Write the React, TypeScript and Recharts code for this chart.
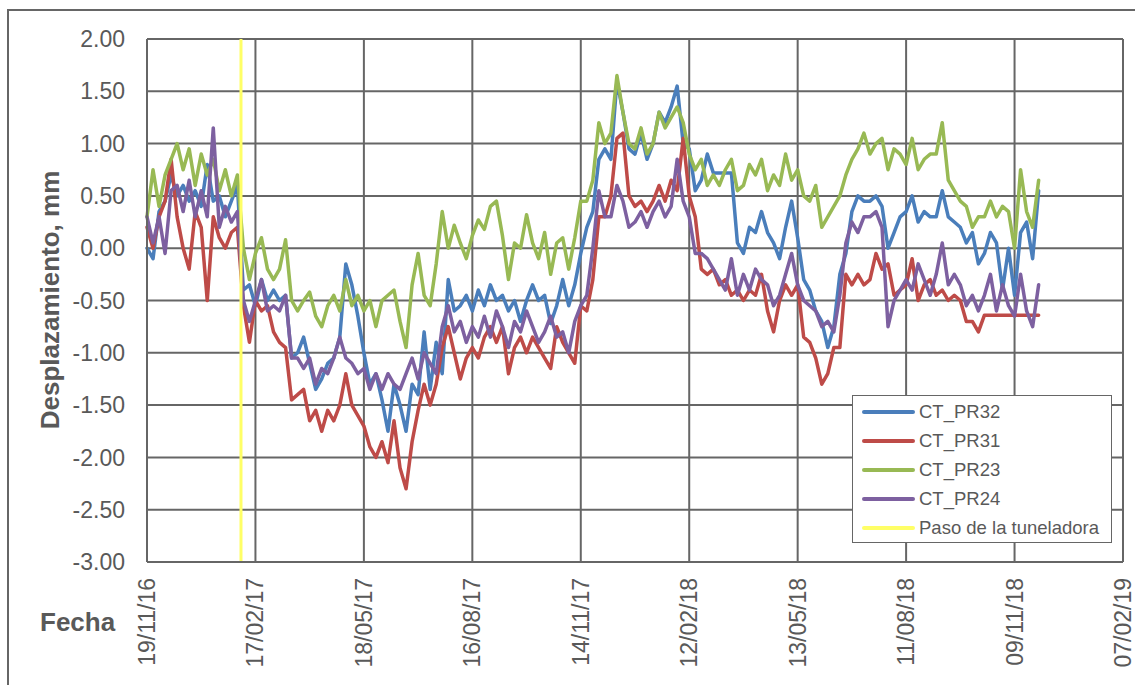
import { LineChart, Line, XAxis, YAxis, CartesianGrid, ReferenceLine, Legend } from 'recharts';

const FONT = '"Liberation Sans", Arial, Helvetica, sans-serif';
const TEXT = '#595959';
const GRID = '#666666';

// days since 19/11/16, one reading every 5 days
const STEP_DAYS = 5;

const X_TICKS = [0, 90, 180, 270, 360, 450, 540, 630, 720, 810];
const X_LABELS = ['19/11/16', '17/02/17', '18/05/17', '16/08/17', '14/11/17', '12/02/18', '13/05/18', '11/08/18', '09/11/18', '07/02/19'];
const Y_TICKS = [-3, -2.5, -2, -1.5, -1, -0.5, 0, 0.5, 1, 1.5, 2];

// paso de la tuneladora (05/02/17)
const TBM_DAY = 78;

const PR32 = [
  0.0, -0.1, 0.35, 0.45, 0.7, 0.5, 0.6, 0.45, 0.55, 0.4,
  0.8, 0.45, 0.5, 0.3, 0.45, 0.6, -0.4, -0.35, -0.55, -0.3,
  -0.5, -0.4, -0.5, -0.45, -1.05, -1.0, -0.85, -1.1, -1.35, -1.25,
  -1.1, -1.05, -0.85, -0.15, -0.35, -0.65, -1.0, -1.3, -1.2, -1.45,
  -1.75, -1.3, -1.5, -1.75, -1.3, -1.4, -0.8, -1.35, -0.9, -1.2,
  -0.3, -0.6, -0.55, -0.45, -0.6, -0.4, -0.55, -0.35, -0.5, -0.45,
  -0.6, -0.5, -0.7, -0.5, -0.35, -0.5, -0.45, -0.72, -0.55, -0.3,
  -0.55, -0.35, -0.05, 0.2, 0.35, 0.85, 0.95, 0.85, 1.6, 1.3,
  0.95, 0.9, 1.1, 0.85, 1.0, 1.3, 1.2, 1.35, 1.55, 1.0,
  0.95, 0.55, 0.65, 0.9, 0.72, 0.72, 0.72, 0.72, 0.05, -0.05,
  0.2, 0.15, 0.35, 0.15, 0.05, -0.1, 0.2, 0.45, 0.1, -0.3,
  -0.4, -0.6, -0.7, -0.95, -0.75, -0.25, -0.05, 0.35, 0.5, 0.45,
  0.45, 0.5, 0.4, 0.0, 0.15, 0.3, 0.35, 0.5, 0.25, 0.35,
  0.3, 0.3, 0.55, 0.3, 0.25, 0.2, 0.05, 0.15, -0.15, -0.05,
  0.15, 0.05, -0.4, 0.0, -0.45, 0.15, 0.25, -0.1, 0.55,
];

const PR31 = [
  0.2, 0.0, 0.3, 0.45, 0.85, 0.3, 0.0, -0.2, 0.35, 0.2,
  -0.5, 0.3, 0.1, 0.0, 0.15, 0.2, -0.55, -0.9, -0.5, -0.6,
  -0.55, -0.8, -0.9, -0.95, -1.45, -1.4, -1.35, -1.65, -1.55, -1.75,
  -1.55, -1.65, -1.5, -1.2, -1.5, -1.6, -1.7, -1.9, -2.0, -1.85,
  -2.05, -1.65, -2.1, -2.3, -1.85, -1.55, -1.3, -1.5, -1.3, -0.95,
  -0.75, -1.0, -1.25, -1.05, -0.95, -1.05, -0.85, -0.75, -0.9, -0.75,
  -1.2, -0.95, -0.85, -1.0, -0.85, -0.95, -1.05, -1.15, -0.75, -0.9,
  -1.0, -1.1, -0.55, -0.6, -0.3, 0.3, 0.3, 0.5, 1.05, 1.1,
  0.5, 0.4, 0.45, 0.35, 0.45, 0.6, 0.45, 0.65, 0.55, 1.05,
  0.5, 0.3, -0.2, -0.25, -0.2, -0.35, -0.3, -0.45, -0.4, -0.5,
  -0.4, -0.45, -0.25, -0.6, -0.8, -0.5, -0.35, -0.45, -0.35, -0.85,
  -0.9, -1.05, -1.3, -1.2, -0.95, -0.95, -0.25, -0.35, -0.25, -0.35,
  -0.3, -0.05, -0.2, -0.15, -0.45, -0.4, -0.35, -0.1, -0.5, -0.35,
  -0.3, -0.45, -0.4, -0.5, -0.45, -0.5, -0.7, -0.7, -0.8, -0.64,
  -0.64, -0.64, -0.64, -0.64, -0.64, -0.64, -0.64, -0.64, -0.64,
];

const PR23 = [
  0.3, 0.75, 0.4, 0.7, 0.85, 1.0, 0.75, 0.95, 0.6, 0.9,
  0.7, 0.85, 0.55, 0.75, 0.5, 0.7, 0.0, -0.3, -0.05, 0.1,
  -0.2, -0.3, -0.2, 0.08, -0.5, -0.6, -0.5, -0.42, -0.65, -0.75,
  -0.55, -0.45, -0.6, -0.3, -0.55, -0.45, -0.6, -0.5, -0.75, -0.5,
  -0.45, -0.4, -0.7, -0.95, -0.35, -0.05, -0.45, -0.55, -0.15, 0.35,
  0.0, 0.22, 0.05, -0.1, 0.12, 0.27, 0.18, 0.4, 0.45, 0.12,
  -0.3, 0.05, 0.0, 0.32, 0.05, -0.1, 0.15, -0.25, 0.05, 0.1,
  -0.2, 0.1, 0.45, 0.45, 0.65, 1.2, 1.0, 1.1, 1.65, 1.3,
  1.0, 0.95, 1.15, 0.9, 1.0, 1.3, 1.15, 1.25, 1.35, 1.2,
  0.9, 0.75, 0.85, 0.6, 0.7, 0.6, 0.75, 0.85, 0.55, 0.6,
  0.8, 0.7, 0.85, 0.55, 0.7, 0.6, 0.9, 0.65, 0.75, 0.5,
  0.45, 0.6, 0.2, 0.3, 0.4, 0.5, 0.7, 0.85, 0.95, 1.1,
  0.9, 1.0, 1.05, 0.75, 0.95, 0.9, 0.8, 1.05, 0.75, 0.85,
  0.9, 0.9, 1.2, 0.65, 0.55, 0.45, 0.4, 0.2, 0.3, 0.3,
  0.45, 0.3, 0.4, 0.35, 0.0, 0.75, 0.35, 0.2, 0.65,
];

const PR24 = [
  0.3, 0.05, 0.3, -0.05, 0.55, 0.6, 0.35, 0.65, 0.3, 0.55,
  0.3, 1.15, 0.2, 0.4, 0.25, 0.35, -0.5, -0.7, -0.5, -0.3,
  -0.6, -0.55, -0.6, -0.45, -1.05, -1.05, -1.15, -1.05, -1.3, -1.15,
  -1.2, -1.05, -0.85, -1.05, -1.1, -1.2, -1.15, -1.35, -1.2, -1.35,
  -1.2, -1.3, -1.35, -1.2, -1.05, -1.25, -1.0, -1.1, -1.2, -0.75,
  -0.55, -0.8, -0.7, -0.9, -0.75, -0.85, -0.65, -0.85, -0.6, -0.75,
  -0.95, -0.7, -0.8, -0.6, -0.75, -0.9, -0.8, -0.65, -0.85, -0.8,
  -1.0, -0.7, -0.55, -0.45, 0.0, 0.55, 0.3, 0.3, 0.6, 0.45,
  0.2, 0.25, 0.35, 0.2, 0.35, 0.45, 0.3, 0.4, 0.85, 0.45,
  0.3, -0.05, -0.05, -0.1, -0.2, -0.3, -0.4, -0.1, -0.45, -0.25,
  -0.4, -0.2, -0.3, -0.35, -0.55, -0.45, -0.25, -0.05, -0.35, -0.5,
  -0.55, -0.6, -0.75, -0.7, -0.8, -0.45, 0.05, 0.25, 0.15, 0.3,
  0.3, 0.35, 0.2, -0.75, -0.5, -0.4, -0.3, -0.4, -0.15, -0.3,
  -0.45, -0.25, 0.05, -0.35, -0.25, -0.35, -0.55, -0.45, -0.6, -0.45,
  -0.25, -0.6, -0.35, -0.55, -0.65, -0.25, -0.6, -0.75, -0.35,
];

const SERIES = [
  { key: 'pr32', name: 'CT_PR32', color: '#4A7EBB' },
  { key: 'pr31', name: 'CT_PR31', color: '#BE4B48' },
  { key: 'pr23', name: 'CT_PR23', color: '#98B954' },
  { key: 'pr24', name: 'CT_PR24', color: '#7D60A0' },
];
const TBM_NAME = 'Paso de la tuneladora';
const TBM_COLOR = '#FFFF66';

const rows = PR32.map((v, i) => ({
  day: i * STEP_DAYS,
  pr32: v,
  pr31: PR31[i],
  pr23: PR23[i],
  pr24: PR24[i],
}));

const DateTick = (props: any) => {
  const { x, y, payload } = props;
  const label = X_LABELS[X_TICKS.indexOf(payload.value)];
  const ty = y + 16;
  return (
    <text
      x={x}
      y={ty}
      transform={`rotate(-90, ${x}, ${ty})`}
      textAnchor="end"
      dominantBaseline="central"
      fontSize={23}
      fill={TEXT}
      fontFamily={FONT}
    >
      {label}
    </text>
  );
};

const LegendBox = () => {
  const items = [...SERIES.map((s) => ({ name: s.name, color: s.color })), { name: TBM_NAME, color: TBM_COLOR }];
  return (
    <div
      style={{
        boxSizing: 'border-box',
        width: 260,
        height: 148,
        border: `1.5px solid ${GRID}`,
        background: '#fff',
        paddingTop: 1,
      }}
    >
      {items.map((it) => (
        <div key={it.name} style={{ display: 'flex', alignItems: 'center', height: 29.2 }}>
          <div style={{ marginLeft: 9, width: 53, height: 4, borderRadius: 2, background: it.color }} />
          <span style={{ marginLeft: 4, fontSize: 18.5, color: TEXT, fontFamily: FONT, whiteSpace: 'nowrap' }}>{it.name}</span>
        </div>
      ))}
    </div>
  );
};

const App = () => {
  return (
    <div
      style={{
        position: 'absolute',
        left: 0,
        top: 0,
        width: 1135,
        height: 685,
        overflow: 'hidden',
        background: '#fff',
        fontFamily: FONT,
      }}
    >
      <div
        style={{
          position: 'absolute',
          left: 7,
          top: 9,
          width: 1200,
          height: 800,
          borderLeft: `2px solid ${GRID}`,
          borderTop: `2px solid ${GRID}`,
        }}
      />
      <div style={{ position: 'absolute', left: 0, top: 0 }}>
        <LineChart width={1135} height={685} data={rows} margin={{ top: 39, right: 12, bottom: 23, left: 87 }}>
          <CartesianGrid stroke={GRID} strokeWidth={2} />
          <XAxis
            type="number"
            dataKey="day"
            domain={[0, 810]}
            ticks={X_TICKS}
            interval={0}
            height={100}
            tickLine={false}
            tickSize={0}
            tickMargin={0}
            axisLine={{ stroke: GRID, strokeWidth: 2 }}
            tick={(p: any) => <DateTick {...p} />}
          />
          <YAxis
            type="number"
            domain={[-3, 2]}
            ticks={Y_TICKS}
            interval={0}
            width={60}
            tickLine={false}
            tickSize={0}
            tickMargin={22}
            axisLine={{ stroke: GRID, strokeWidth: 2 }}
            tickFormatter={(v: number) => v.toFixed(2)}
            tick={{ fontSize: 23, fill: TEXT, fontFamily: FONT }}
          />
          {SERIES.map((s) => (
            <Line
              key={s.key}
              type="linear"
              dataKey={s.key}
              name={s.name}
              stroke={s.color}
              strokeWidth={3.5}
              strokeLinejoin="round"
              strokeLinecap="round"
              dot={false}
              activeDot={false}
              isAnimationActive={false}
            />
          ))}
          <ReferenceLine x={TBM_DAY} stroke={TBM_COLOR} strokeWidth={3} />
          <Legend
            layout="vertical"
            align="center"
            verticalAlign="middle"
            wrapperStyle={{ left: 852, top: 395, width: 260, height: 148 }}
            content={() => <LegendBox />}
          />
        </LineChart>
      </div>
      <div
        style={{
          position: 'absolute',
          left: 50,
          top: 300,
          transform: 'translate(-50%, -50%) rotate(-90deg)',
          fontSize: 26,
          fontWeight: 'bold',
          color: TEXT,
          whiteSpace: 'nowrap',
          lineHeight: 1,
        }}
      >
        Desplazamiento, mm
      </div>
      <div
        style={{
          position: 'absolute',
          left: 40,
          top: 609,
          fontSize: 26,
          fontWeight: 'bold',
          color: TEXT,
          lineHeight: 1,
        }}
      >
        Fecha
      </div>
    </div>
  );
};

export default App;
